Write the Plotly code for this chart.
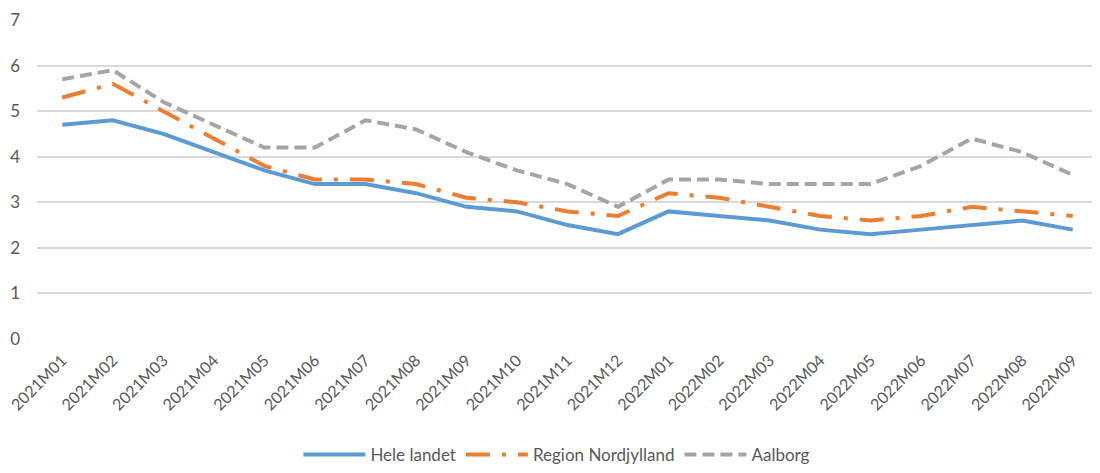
import plotly.graph_objects as go

categories = ["2021M01","2021M02","2021M03","2021M04","2021M05","2021M06","2021M07","2021M08","2021M09","2021M10","2021M11","2021M12",
              "2022M01","2022M02","2022M03","2022M04","2022M05","2022M06","2022M07","2022M08","2022M09"]
hele_landet = [4.7,4.8,4.5,4.1,3.7,3.4,3.4,3.2,2.9,2.8,2.5,2.3,2.8,2.7,2.6,2.4,2.3,2.4,2.5,2.6,2.4]
region_nordjylland = [5.3,5.6,5.0,4.4,3.8,3.5,3.5,3.4,3.1,3.0,2.8,2.7,3.2,3.1,2.9,2.7,2.6,2.7,2.9,2.8,2.7]
aalborg = [5.7,5.9,5.2,4.7,4.2,4.2,4.8,4.6,4.1,3.7,3.4,2.9,3.5,3.5,3.4,3.4,3.4,3.8,4.4,4.1,3.6]
y_ticks = [0,1,2,3,4,5,6,7]

font_family = "Lato, Open Sans, sans-serif"

fig = go.Figure()
fig.add_trace(go.Scatter(x=categories, y=hele_landet, name="Hele landet", mode="lines",
                         line=dict(color="#5B9BD5", width=4)))
fig.add_trace(go.Scatter(x=categories, y=region_nordjylland, name="Region Nordjylland", mode="lines",
                         line=dict(color="#ED7D31", width=4, dash="24px,12px,4px,12px")))
fig.add_trace(go.Scatter(x=categories, y=aalborg, name="Aalborg", mode="lines",
                         line=dict(color="#A5A5A5", width=4, dash="12px,6px")))

# page body has an 8px default margin, so the figure is 8px smaller than the window
fig.update_layout(
    width=1092, height=465,
    margin=dict(l=29, r=2, t=12, b=133),
    paper_bgcolor="white", plot_bgcolor="white",
    font=dict(family=font_family, color="#595959", size=17),
    showlegend=True,
    legend=dict(orientation="h", x=0.49, xanchor="center", y=-133/320, yanchor="bottom",
                font=dict(size=17, color="#595959"), itemwidth=62),
    xaxis=dict(type="category", tickangle=-45, showgrid=False, zeroline=False,
               showline=False, ticks="", tickfont=dict(size=16, color="#595959"),
               range=[-0.5, len(categories) - 0.5], automargin=False,
               ticklabelstandoff=8),
    yaxis=dict(range=[0, 7], tickvals=y_ticks, showgrid=True, gridcolor="#D9D9D9",
               gridwidth=1.5, zeroline=False, showline=False, ticks="",
               tickfont=dict(size=17, color="#595959"), ticklabelstandoff=16,
               automargin=False),
)

fig.write_html("out.html")
